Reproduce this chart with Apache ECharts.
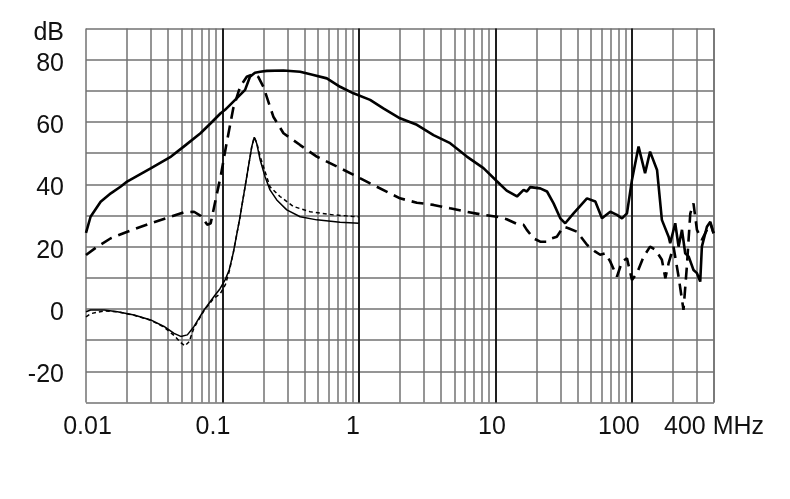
<!DOCTYPE html>
<html><head><meta charset="utf-8">
<script src="https://cdn.jsdelivr.net/npm/echarts/dist/echarts.min.js"></script>
<style>html,body{margin:0;padding:0;background:#fff}#c{width:790px;height:499px}</style>
</head><body><div id="c"></div>
<script>
// x tick labels (by decade exponent) and end label
const xDecadeLabels = {'-2':'0.01','-1':'0.1','0':'1','1':'10','2':'100'};
const xEndLabel = '400 MHz';
const yTopLabel = 'dB';
// grid lines (MHz)
const minorGrid = [0.02,0.03,0.04,0.05,0.06,0.07,0.08,0.09,0.2,0.3,0.4,0.5,0.6,0.7,0.8,0.9,2,3,4,5,6,7,8,9,20,30,40,50,60,70,80,90,200,300,400];
const decadeGrid = [0.1,1,10,100];

// Thick solid curve
const fA = [0.01,0.0108,0.0128,0.0152,0.018,0.02,0.03,0.042,0.052,0.069,0.082,0.097,0.1045,0.127,0.1465,0.159,0.173,0.189,0.211,0.28,0.371,0.464,0.582,0.728,0.912,1.208,1.51,2.0,2.66,3.52,4.66,6.18,8.18,10.26,12.1,14.4,16.1,17.0,18.0,21.3,23.9,26.7,29.9,32.5,37.4,46.9,54.0,60.4,69.5,77.8,84.7,92.1,100.2,112,125,136,153,166,186,191,208,220,233,246,261,283,300,317,326,355,376,397];
const dA = [24.4,29.6,34.4,37.1,39.3,40.9,45.2,48.9,52.1,56.4,59.6,62.8,63.9,67.6,70.3,74.5,75.8,76.1,76.4,76.5,76.1,75.1,74.0,71.3,69.2,67.1,64.4,61.2,59.1,55.8,53.2,48.9,45.2,41.0,38.0,36.1,38.2,37.7,39.1,38.7,37.7,33.9,29.1,27.5,30.7,35.5,34.5,29.1,31.2,30.2,29.1,30.7,41.4,52.1,43.6,50.5,44.6,28.6,23.2,21.1,27.5,20.0,25.4,17.9,16.8,12.5,11.5,8.8,20.0,26.4,28.0,24.3];

// Thick dashed curve
const fB = [0.01,0.0121,0.0152,0.0201,0.0298,0.0418,0.0523,0.0619,0.0693,0.0775,0.082,0.09,0.097,0.106,0.12,0.1346,0.1507,0.1685,0.183,0.1995,0.236,0.28,0.371,0.491,0.728,0.966,1.208,2.0,2.66,3.52,4.66,6.18,8.18,10.26,12.1,14.4,16.1,17.0,19.0,21.3,23.9,25.9,28.2,31.6,34.3,39.6,46.9,54.0,58.6,63.8,69.5,77.8,84.7,92.1,100.2,109,122,136,149,166,176,186,202,220,239,253,268,283,300,326,355,376,397];
const dB = [17.3,20.0,22.7,24.8,27.5,29.6,31.0,31.2,29.9,27.0,27.5,36.0,42.5,52.0,64.4,71.3,74.5,75.4,74.5,71.3,61.7,56.4,52.6,48.9,45.2,42.5,40.3,35.5,34.1,33.4,32.3,31.2,30.2,29.6,28.8,27.3,27.0,25.4,22.7,21.6,21.6,22.7,23.2,26.4,25.9,24.8,20.6,18.4,17.4,17.9,15.2,10.4,15.2,16.3,9.3,11.5,16.8,20.0,19.0,15.8,9.9,14.7,20.0,10.4,-0.3,13.6,30.6,33.9,25.4,22.2,25.4,27.5,24.3];

// Thin solid curve
const fC = [0.01,0.0108,0.0136,0.017,0.0225,0.0298,0.0373,0.0442,0.0495,0.0553,0.0619,0.0733,0.0867,0.096,0.105,0.112,0.12,0.1346,0.1507,0.164,0.171,0.178,0.189,0.205,0.223,0.25,0.296,0.371,0.491,0.728,1.0];
const dC = [-0.9,-0.3,-0.3,-0.9,-1.9,-3.5,-5.6,-7.8,-8.8,-8.3,-5.6,-0.3,4.0,6.5,9.5,12.5,18.0,29.6,42.5,52.1,55.1,53.2,47.8,42.5,38.2,35.0,31.8,29.6,28.6,27.8,27.5];

// Thin short-dashed curve
const fD = [0.01,0.0108,0.0136,0.017,0.0225,0.0298,0.0373,0.0442,0.0495,0.053,0.057,0.0619,0.0733,0.0867,0.096,0.105,0.112,0.12,0.1346,0.1507,0.164,0.171,0.178,0.189,0.223,0.264,0.331,0.439,0.65,1.0];
const dD = [-2.5,-1.5,-0.6,-0.9,-2.0,-3.6,-5.8,-8.5,-10.8,-11.8,-10.5,-6.0,-0.5,3.5,4.8,7.8,12.0,18.0,29.6,42.5,52.1,55.1,53.5,48.9,39.2,36.1,32.9,31.2,30.2,29.6];

const zip = (f, d) => f.map((v, i) => [v, d[i]]);
const FONT = '"Liberation Sans", Arial, sans-serif';
const GRID_GRAY = '#727272';
const TXT = {color: '#111', fontSize: 25, fontFamily: FONT};
const mk = (pad) => Object.assign({padding: pad}, TXT);

const chart = echarts.init(document.getElementById('c'), null, {renderer: 'canvas'});
chart.setOption({
  animation: false,
  backgroundColor: '#fff',
  grid: {left: 86, right: 76, top: 28.5, bottom: 96.5, containLabel: false},
  xAxis: {
    type: 'log', logBase: 10, min: 0.01, max: 400,
    axisLine: {show: false}, axisTick: {show: false},
    splitLine: {show: true, lineStyle: {color: GRID_GRAY, width: 1.5}},
    axisLabel: {
      color: '#111', fontSize: 25, fontFamily: FONT, margin: 12, showMaxLabel: true, showMinLabel: true,
      rich: {
        m2: mk([0, 0, 0, 3]), m1: mk([0, 19, 0, 0]), m0: mk([0, 12, 0, 0]),
        p1: mk([0, 7, 0, 0]), p2: mk([0, 26, 0, 0]), e: mk([0, 0, 0, 0])
      },
      formatter: function (v) {
        const e = Math.log10(v);
        const r = Math.round(e);
        const keys = {'-2': 'm2', '-1': 'm1', '0': 'm0', '1': 'p1', '2': 'p2'};
        if (Math.abs(e - r) < 1e-6 && xDecadeLabels[r] !== undefined) return '{' + keys[r] + '|' + xDecadeLabels[r] + '}';
        if (v > 300) return '{e|' + xEndLabel + '}';
        return '';
      }
    }
  },
  yAxis: {
    type: 'value', min: -30, max: 90, interval: 10,
    axisLine: {show: false}, axisTick: {show: false},
    splitLine: {show: true, lineStyle: {color: GRID_GRAY, width: 1.5}},
    axisLabel: {
      color: '#111', fontSize: 25, fontFamily: FONT, margin: 22,
      rich: {y: mk([8, 0, 0, 0]), t: mk([10, 0, 0, 0])},
      formatter: function (v) {
        if (v === 90) return '{t|' + yTopLabel + '}';
        if (v % 20 === 0 && v !== -30) return '{y|' + String(v) + '}';
        return '';
      }
    }
  },
  series: [
    {
      type: 'line', data: [], z: 1, silent: true,
      markLine: {
        silent: true, symbol: 'none', label: {show: false}, animation: false,
        lineStyle: {color: GRID_GRAY, width: 1.5, type: 'solid'},
        data: minorGrid.map(v => ({xAxis: v}))
      }
    },
    {
      type: 'line', data: [], z: 1, silent: true,
      markLine: {
        silent: true, symbol: 'none', label: {show: false}, animation: false,
        lineStyle: {color: '#111', width: 1.8, type: 'solid'},
        data: decadeGrid.map(v => ({xAxis: v}))
      }
    },
    {type: 'line', data: zip(fA, dA), z: 5, showSymbol: false, symbol: 'none', silent: true,
     lineStyle: {color: '#000', width: 2.6, type: 'solid'}},
    {type: 'line', data: zip(fB, dB), z: 5, showSymbol: false, symbol: 'none', silent: true,
     lineStyle: {color: '#000', width: 2.6, type: [12, 7]}},
    {type: 'line', data: zip(fC, dC), z: 5, showSymbol: false, symbol: 'none', silent: true,
     lineStyle: {color: '#000', width: 1.5, type: 'solid'}},
    {type: 'line', data: zip(fD, dD), z: 5, showSymbol: false, symbol: 'none', silent: true,
     lineStyle: {color: '#000', width: 1.5, type: [4, 3]}}
  ]
});
</script>
</body></html>
